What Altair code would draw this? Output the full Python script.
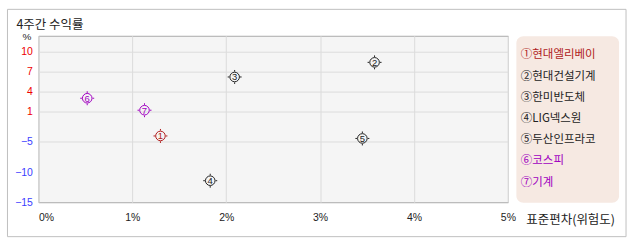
import altair as alt
import pandas as pd

# ---- data ----
names = ["현대엘리베이", "현대건설기계", "한미반도체", "LIG넥스원", "두산인프라코", "코스피", "기계"]
circled = ["①", "②", "③", "④", "⑤", "⑥", "⑦"]
nums = ["1", "2", "3", "4", "5", "6", "7"]
risk = [1.30, 3.58, 2.09, 1.83, 3.45, 0.52, 1.13]      # 표준편차 (%)
ret = [-3.9, 8.4, 6.2, -11.4, -4.4, 3.0, 1.2]          # 4주간 수익률 (%)
colors = ["#b01c1c", "#222222", "#222222", "#222222", "#222222", "#a000c0", "#a000c0"]
y_ticks = [-15, -10, -5, 1, 4, 7, 10]
x_ticks = [0, 1, 2, 3, 4, 5]

df = pd.DataFrame({
    "name": names,
    "num": nums,
    "label": [c + n for c, n in zip(circled, names)],
    "risk": risk,
    "ret": ret,
})

W, H = 471, 167
KR = "Noto Sans CJK KR"
LAT = "Liberation Sans"

color_scale = alt.Scale(domain=names, range=colors)

# piecewise vertical scale as in the original (uneven tick spacing)
y_scale = alt.Scale(
    domain=[-15, -10, -5, 1, 4, 7, 10, 12.4],
    range=[167, 137, 106, 76, 56, 36, 16, 0],
    nice=False, zero=False,
)
x_scale = alt.Scale(domain=[0, 5], nice=False, zero=False)

x_enc = alt.X(
    "risk:Q", scale=x_scale,
    axis=alt.Axis(
        values=x_ticks, tickCount=20, labelExpr="datum.value + '%'", ticks=False, domain=False,
        labelPadding=10, labelFont=LAT, labelFontSize=10.5, labelColor="#222",
        labelAlign=alt.expr("datum.value == 0 ? 'left' : 'center'"),
        labelOverlap=False, labelFlush=False,
        gridColor="#dcdcdc", title="표준편차(위험도)", titleFont=KR, titleFontSize=12.5,
        titleFontWeight="normal", titleColor="#222", titleX=489, titleY=17,
        titleAlign="left", titleBaseline="middle",
    ),
)
y_enc = alt.Y(
    "ret:Q", scale=y_scale,
    axis=alt.Axis(
        values=y_ticks, tickCount=20, ticks=False, domain=False, labelPadding=6,
        labelFont=LAT, labelFontSize=10.5, labelOverlap=False,
        labelColor=alt.expr("datum.value > 0 ? '#ee0000' : '#3c3cff'"),
        gridColor="#dcdcdc",
        gridOpacity=alt.expr("datum.value >= -5 ? 1 : 0"),
        title="%", titleAngle=0, titleFont=LAT, titleFontSize=10,
        titleFontWeight="normal", titleColor="#222", titleX=-12, titleY=1,
        titleAlign="center", titleBaseline="middle",
    ),
)

tick_path = "M0,-1L0,-0.76M0,1L0,0.76M-1,0L-0.76,0M1,0L0.76,0"

rings = alt.Chart(df).mark_point(
    shape="circle", size=92, filled=False, strokeWidth=1, opacity=1
).encode(
    x=x_enc, y=y_enc,
    color=alt.Color("name:N", scale=color_scale, legend=None),
)
ticks = alt.Chart(df).mark_point(
    shape=tick_path, size=196, filled=False, strokeWidth=1, opacity=1
).encode(
    x="risk:Q", y="ret:Q",
    color=alt.Color("name:N", scale=color_scale, legend=None),
)
digits = alt.Chart(df).mark_text(font=LAT, fontSize=9.5, baseline="middle", dy=0.5).encode(
    x="risk:Q", y="ret:Q", text="num:N",
    color=alt.Color("name:N", scale=color_scale, legend=None),
)
frame = alt.Chart(alt.Data(values=[{}])).mark_rect(
    fillOpacity=0, stroke="#c0c0c0", strokeWidth=1
).encode(
    x=alt.value(-31), x2=alt.value(589.5), y=alt.value(-26.5), y2=alt.value(201.5)
)

plot = alt.layer(rings, ticks, digits, frame).properties(
    width=W, height=H,
    view=alt.ViewBackground(fill="#f5f5f5", stroke="#aaaaaa", strokeWidth=1),
)

legend = alt.Chart(df).mark_text(
    align="left", baseline="middle", font=KR, fontSize=11.5, dx=5
).encode(
    x=alt.value(0),
    y=alt.Y("label:N", sort=None, scale=alt.Scale(type="point", padding=0.92), axis=None),
    text="label:N",
    color=alt.Color("name:N", scale=color_scale, legend=None),
).properties(
    width=103, height=H,
    view=alt.ViewBackground(fill="#f6e9e2", stroke="transparent", cornerRadius=7),
)

chart = alt.hconcat(plot, legend, spacing=8, bounds="flush").properties(
    padding={"left": 6.5, "top": 7.5, "right": 10.5, "bottom": 6.5},
    title=alt.TitleParams(
        "4주간 수익률", anchor="start", frame="group", font=KR, fontSize=12.5,
        fontWeight="normal", color="#222", dx=-22, dy=23, offset=0,
    ),
    background="white",
).resolve_scale(color="shared")

chart.save("out.html", embed_options={"renderer": "svg", "actions": False})
